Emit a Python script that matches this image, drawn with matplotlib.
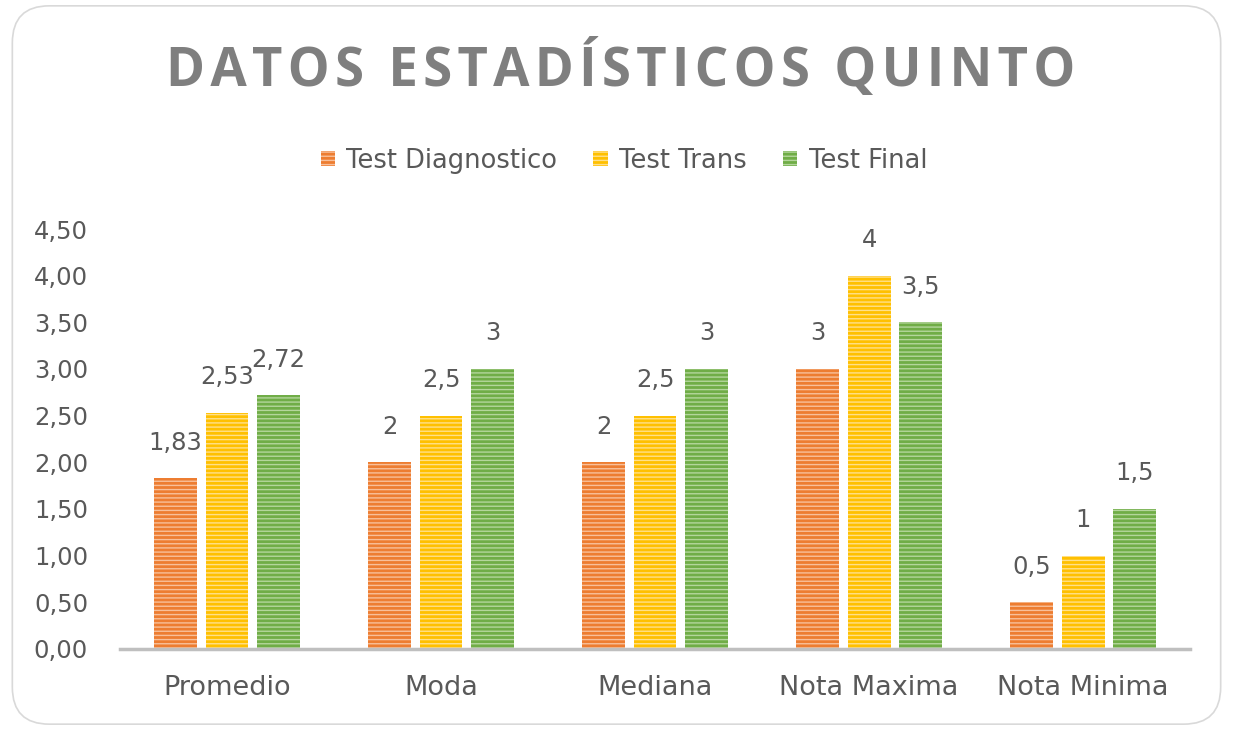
import matplotlib.pyplot as plt
import numpy as np
from matplotlib.patches import FancyBboxPatch

# data
categories = ["Promedio", "Moda", "Mediana", "Nota Maxima", "Nota Minima"]
series_names = ["Test Diagnostico", "Test Trans", "Test Final"]
diagnostico = [1.83, 2, 2, 3, 0.5]
trans = [2.53, 2.5, 2.5, 4, 1]
final = [2.72, 3, 3, 3.5, 1.5]
label_text = [
    ["1,83", "2", "2", "3", "0,5"],
    ["2,53", "2,5", "2,5", "4", "1"],
    ["2,72", "3", "3", "3,5", "1,5"],
]
yticks = [0, 0.5, 1, 1.5, 2, 2.5, 3, 3.5, 4, 4.5]

colors = ["#ED7D31", "#FFC000", "#70AD47"]
stripes = ["#F8C09A", "#FFE08A", "#B4D69C"]
text_col = "#595959"

plt.rcParams["font.family"] = ["DejaVu Sans"]
plt.rcParams["hatch.linewidth"] = 1.0

fig = plt.figure(figsize=(12.33, 7.30), dpi=100)
fig.patches.append(FancyBboxPatch((0.01, 0.008), 0.98, 0.984, boxstyle="round,pad=0,rounding_size=0.03",
                                  transform=fig.transFigure, facecolor="none", zorder=-1,
                                  edgecolor="#D9D9D9", linewidth=1.2, mutation_aspect=1.69))

ax = fig.add_axes([0.0973, 0.111, 0.868, 0.5753])

x = np.arange(len(categories))
w = 0.2
step = 0.24
for i, vals in enumerate([diagnostico, trans, final]):
    bars = ax.bar(x + (i - 1) * step, vals, w, color=colors[i], edgecolor=stripes[i],
                  linewidth=0, hatch="----", label=series_names[i])
    for b, t in zip(bars, label_text[i]):
        ax.annotate(t, (b.get_x() + b.get_width() / 2, b.get_height()), xytext=(0, 17),
                    textcoords="offset points", ha="center", va="bottom",
                    fontsize=17.5, color=text_col)

ax.set_xlim(-0.5, len(categories) - 0.5)
ax.set_ylim(0, 4.5)
ax.set_yticks(yticks)
ax.set_yticklabels([f"{v:.2f}".replace(".", ",") for v in yticks])
ax.set_xticks(x)
ax.set_xticklabels(categories)
ax.tick_params(axis="both", length=0, labelcolor=text_col)
ax.tick_params(axis="x", pad=19, labelsize=19.5)
ax.tick_params(axis="y", pad=23, labelsize=17.5)
for s in ["top", "right", "left"]:
    ax.spines[s].set_visible(False)
ax.spines["bottom"].set_color("#BFBFBF")
ax.spines["bottom"].set_linewidth(2.5)

fig.text(0.503, 0.905, "\u200a".join("DATOS ESTADÍSTICOS QUINTO"), ha="center", va="center",
         fontsize=38, fontweight="bold", color="#7F7F7F", family=["Open Sans", "DejaVu Sans"])

fig.legend(loc="center", bbox_to_anchor=(0.506, 0.78), ncol=3, frameon=False,
           fontsize=18.5, labelcolor=text_col, handlelength=0.55, handleheight=0.55,
           handletextpad=0.45, columnspacing=1.4)

fig.savefig("out.png", dpi=100)
